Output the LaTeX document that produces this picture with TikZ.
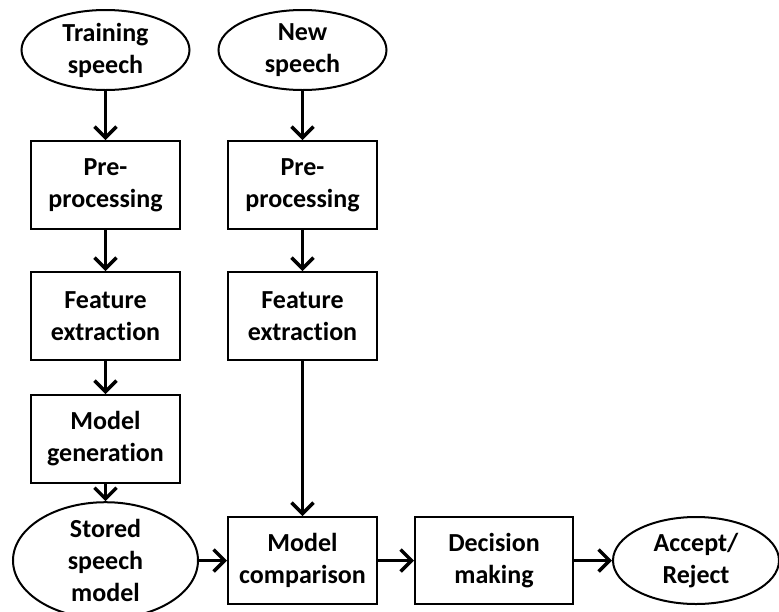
\documentclass[tikz,border=0pt]{standalone}
\usepackage{fontspec}
\setmainfont{Carlito}[Ligatures=NoCommon]
\usetikzlibrary{arrows.meta,shapes.geometric}

\begin{document}
\begin{tikzpicture}[x=1pt,y=-1pt,
  blk/.style={draw,line width=2pt,minimum width=149pt,minimum height=88pt,inner sep=0pt,align=center,font=\fontsize{26}{32}\selectfont\bfseries},
  elp/.style={draw,ellipse,line width=2pt,inner sep=0pt,align=center,font=\fontsize{26}{32}\selectfont\bfseries},
  flow/.style={line width=3.5pt,-{Straight Barb[length=11pt,width=22pt]}}]

\useasboundingbox (0,0) rectangle (779,611);

\node[elp,minimum width=168pt,minimum height=80pt] (train) at (105.5,50) {Training\\speech};
\node[elp,minimum width=168pt,minimum height=80pt] (new) at (302.5,50) {New\\speech};

\node[blk] (pre1) at (105.5,185) {Pre-\\processing};
\node[blk] (pre2) at (302.5,185) {Pre-\\processing};
\node[blk] (feat1) at (105.5,316) {Feature\\extraction};
\node[blk] (feat2) at (302.5,316) {Feature\\extraction};
\node[blk] (gen) at (105.5,439) {Model\\generation};

\node[elp,minimum width=185pt,minimum height=106pt] (stored) at (105.5,560.5) {Stored\\speech\\model};
\node[blk,minimum height=87pt] (comp) at (302.5,560.5) {Model\\comparison};
\node[blk,minimum width=158pt,minimum height=87pt] (dec) at (494,560.5) {Decision\\making};
\node[elp,minimum width=166pt,minimum height=87pt] (acc) at (696,560.5) {Accept/\\Reject};

\draw[flow] (train) -- (pre1);
\draw[flow] (pre1) -- (feat1);
\draw[flow] (feat1) -- (gen);
\draw[flow] (gen) -- (stored);
\draw[flow] (new) -- (pre2);
\draw[flow] (pre2) -- (feat2);
\draw[flow] (feat2) -- (comp);
\draw[flow] (stored) -- (comp);
\draw[flow] (comp) -- (dec);
\draw[flow] (dec) -- (acc);

\end{tikzpicture}
\end{document}
